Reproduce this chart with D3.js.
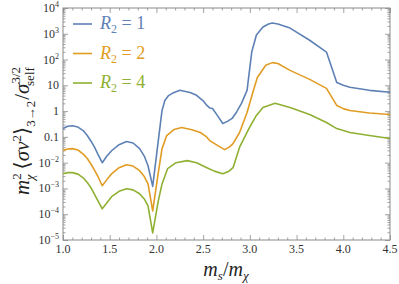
<!DOCTYPE html>
<html>
<head>
<meta charset="utf-8">
<script src="https://cdn.jsdelivr.net/npm/d3@7"></script>
<style>
  body { margin: 0; background: #fff; }
  svg { display: block; }
  text { font-family: "Liberation Serif", "DejaVu Serif", serif; }
</style>
</head>
<body>
<div id="chart"></div>
<script>
// data (x = m_s/m_chi)
const blueX = [1.00,1.05,1.10,1.16,1.22,1.26,1.30,1.34,1.38,1.42,1.47,1.52,1.60,1.68,1.75,1.82,1.87,1.91,1.96,2.02,2.06,2.09,2.13,2.17,2.25,2.36,2.43,2.50,2.54,2.57,2.60,2.65,2.71,2.76,2.81,2.86,2.91,2.97,3.02,3.07,3.14,3.20,3.24,3.30,3.43,3.64,3.82,3.93,4.00,4.07,4.28,4.50];
const blueY = [0.21,0.26,0.27,0.24,0.17,0.113,0.068,0.038,0.019,0.010,0.018,0.029,0.050,0.066,0.058,0.035,0.018,0.0076,0.0012,0.072,1.06,2.6,4.0,4.9,6.4,5.3,4.1,2.5,1.66,1.33,1.27,0.7,0.33,0.40,0.52,0.95,2.0,6.4,195,890,1820,2400,2600,2400,1660,560,195,13,10,8.4,6.4,5.4];

const orangeX = [1.00,1.05,1.10,1.16,1.22,1.26,1.30,1.34,1.38,1.42,1.47,1.52,1.60,1.68,1.75,1.82,1.87,1.91,1.96,2.02,2.06,2.11,2.19,2.27,2.38,2.47,2.53,2.57,2.64,2.73,2.78,2.82,2.89,2.97,3.03,3.08,3.17,3.24,3.30,3.43,3.64,3.82,3.93,4.00,4.07,4.28,4.50];
const orangeY = [0.030,0.034,0.035,0.031,0.021,0.0145,0.0087,0.0049,0.0026,0.00127,0.0022,0.0037,0.0064,0.0083,0.0074,0.0049,0.0029,0.0015,0.000135,0.0041,0.035,0.113,0.194,0.23,0.19,0.148,0.105,0.072,0.050,0.032,0.040,0.055,0.148,0.89,5.0,20,60,76,70,38,17,7.6,1.66,1.25,1.06,0.85,0.74];

const greenX = [1.00,1.05,1.10,1.16,1.22,1.26,1.30,1.34,1.38,1.42,1.47,1.52,1.60,1.68,1.75,1.82,1.87,1.91,1.96,2.02,2.06,2.12,2.21,2.33,2.43,2.54,2.62,2.71,2.77,2.82,2.89,2.99,3.07,3.14,3.27,3.43,3.64,3.82,3.93,4.07,4.28,4.50];
const greenY = [0.0037,0.0041,0.0041,0.0036,0.0025,0.0017,0.00105,0.00056,0.0003,0.000162,0.00028,0.00048,0.00077,0.00098,0.00088,0.00062,0.00039,0.00021,0.0000188,0.00033,0.0015,0.0059,0.010,0.012,0.010,0.0064,0.0047,0.0037,0.0045,0.0064,0.04,0.21,0.68,1.38,2.0,1.38,0.74,0.36,0.21,0.148,0.113,0.087];

const seriesNames = ["R2 = 1", "R2 = 2", "R2 = 4"];
const seriesLabelValue = ["1", "2", "4"];
const seriesColors = ["#5e81b5", "#e19c24", "#8fb032"];

const xTicks = [1.0, 1.5, 2.0, 2.5, 3.0, 3.5, 4.0, 4.5];
const yTicks = [1e4, 1e3, 1e2, 10, 1, 0.1, 1e-2, 1e-3, 1e-4, 1e-5];
const yTickLabels = ["10^4", "10^3", "10^2", "10", "1", "0.1", "10^−2", "10^−3", "10^−4", "10^−5"];

// layout
const W = 399, H = 284;
const margin = { left: 63, right: 390, top: 8, bottom: 240 };

const svg = d3.select("#chart").append("svg")
    .attr("width", W)
    .attr("height", H);

const x = d3.scaleLinear().domain([1, 4.5]).range([margin.left, margin.right]);
const y = d3.scaleLog().domain([1e-5, 1e4]).range([margin.bottom, margin.top]);

// minor ticks
const xMinor = d3.range(10, 46).map(d => d / 10).filter(d => !xTicks.some(t => Math.abs(t - d) < 1e-9));
const yMinor = [];
for (let e = -5; e < 4; e++) {
    for (let k = 2; k <= 9; k++) yMinor.push(k * Math.pow(10, e));
}

const tickColor = "#8a8a8a";

function styleAxis(g) {
    g.select(".domain").remove();
    g.selectAll("line").attr("stroke", tickColor).attr("stroke-width", 0.8);
    g.selectAll("text").remove();
}

// bottom / top
svg.append("g").attr("transform", `translate(0,${margin.bottom})`)
    .call(d3.axisBottom(x).tickValues(xTicks).tickSizeInner(-5).tickSizeOuter(0)).call(styleAxis);
svg.append("g").attr("transform", `translate(0,${margin.bottom})`)
    .call(d3.axisBottom(x).tickValues(xMinor).tickSizeInner(-2.5).tickSizeOuter(0)).call(styleAxis);
svg.append("g").attr("transform", `translate(0,${margin.top})`)
    .call(d3.axisTop(x).tickValues(xTicks).tickSizeInner(-5).tickSizeOuter(0)).call(styleAxis);
svg.append("g").attr("transform", `translate(0,${margin.top})`)
    .call(d3.axisTop(x).tickValues(xMinor).tickSizeInner(-2.5).tickSizeOuter(0)).call(styleAxis);

// left / right
svg.append("g").attr("transform", `translate(${margin.left},0)`)
    .call(d3.axisLeft(y).tickValues(yTicks).tickSizeInner(-5).tickSizeOuter(0)).call(styleAxis);
svg.append("g").attr("transform", `translate(${margin.left},0)`)
    .call(d3.axisLeft(y).tickValues(yMinor).tickSizeInner(-2.5).tickSizeOuter(0)).call(styleAxis);
svg.append("g").attr("transform", `translate(${margin.right},0)`)
    .call(d3.axisRight(y).tickValues(yTicks).tickSizeInner(-5).tickSizeOuter(0)).call(styleAxis);
svg.append("g").attr("transform", `translate(${margin.right},0)`)
    .call(d3.axisRight(y).tickValues(yMinor).tickSizeInner(-2.5).tickSizeOuter(0)).call(styleAxis);

// frame
svg.append("rect")
    .attr("x", margin.left).attr("y", margin.top)
    .attr("width", margin.right - margin.left).attr("height", margin.bottom - margin.top)
    .attr("fill", "none").attr("stroke", tickColor).attr("stroke-width", 1);

// tick labels
svg.append("g").selectAll("text")
    .data(xTicks)
    .enter().append("text")
    .attr("x", d => x(d))
    .attr("y", margin.bottom + 13)
    .attr("text-anchor", "middle")
    .style("font-size", "12px")
    .attr("fill", "#333")
    .text(d => d.toFixed(1));

const yLab = svg.append("g").selectAll("text")
    .data(yTicks)
    .enter().append("text")
    .attr("x", margin.left - 4)
    .attr("y", d => y(d) + 4)
    .attr("text-anchor", "end")
    .style("font-size", "12px")
    .attr("fill", "#333");

yLab.each(function(d, i) {
    const parts = yTickLabels[i].split("^");
    const t = d3.select(this);
    t.append("tspan").text(parts[0]);
    if (parts.length > 1) {
        t.append("tspan").attr("dy", -5).style("font-size", "8px").text(parts[1]);
    }
});

// lines
const line = d3.line()
    .x(d => x(d[0]))
    .y(d => y(d[1]))
    .curve(d3.curveLinear);

const series = [
    d3.zip(blueX, blueY),
    d3.zip(orangeX, orangeY),
    d3.zip(greenX, greenY)
];

svg.append("g").selectAll("path")
    .data(series)
    .enter().append("path")
    .attr("d", line)
    .attr("fill", "none")
    .attr("stroke", (d, i) => seriesColors[i])
    .attr("stroke-width", 1.6)
    .attr("stroke-linejoin", "round");

// legend
const legend = svg.append("g").selectAll("g")
    .data(seriesNames)
    .enter().append("g")
    .attr("transform", (d, i) => `translate(73,${24 + i * 29.5})`);

legend.append("line")
    .attr("x1", 0).attr("x2", 19)
    .attr("stroke", (d, i) => seriesColors[i])
    .attr("stroke-width", 1.6);

const legText = legend.append("text")
    .attr("x", 27)
    .attr("y", 5)
    .style("font-size", "18px")
    .attr("fill", (d, i) => seriesColors[i]);
legText.append("tspan").style("font-style", "italic").text("R");
legText.append("tspan").attr("dy", 4).style("font-size", "12px").text("2");
legText.append("tspan").attr("dy", -4).text((d, i) => " = " + seriesLabelValue[i]);

// x axis title
const xt = svg.append("text")
    .attr("x", 226)
    .attr("y", 276)
    .attr("text-anchor", "middle")
    .style("font-size", "20px")
    .attr("fill", "#222");
xt.append("tspan").style("font-style", "italic").text("m");
xt.append("tspan").attr("dy", 4).style("font-size", "13px").style("font-style", "italic").text("s");
xt.append("tspan").attr("dy", -4).text("/");
xt.append("tspan").style("font-style", "italic").text("m");
xt.append("tspan").attr("dy", 4).style("font-size", "13px").style("font-style", "italic").text("χ");

// y axis title
const yt = svg.append("text")
    .attr("transform", "rotate(-90)")
    .attr("x", -131)
    .attr("y", 29)
    .attr("text-anchor", "middle")
    .style("font-size", "21px")
    .attr("fill", "#222");
yt.append("tspan").style("font-style", "italic").text("m");
yt.append("tspan").attr("dy", -8).style("font-size", "13px").text("2");
yt.append("tspan").attr("dx", -7).attr("dy", 13).style("font-size", "13px").style("font-style", "italic").text("χ");
yt.append("tspan").attr("dy", -5).text(" ⟨");
yt.append("tspan").style("font-style", "italic").text("σv");
yt.append("tspan").attr("dy", -8).style("font-size", "13px").text("2");
yt.append("tspan").attr("dy", 8).text("⟩");
yt.append("tspan").attr("dy", 6).style("font-size", "13px").text("3→2");
yt.append("tspan").attr("dx", 1).attr("dy", -6).text("/");
yt.append("tspan").style("font-style", "italic").text("σ");
yt.append("tspan").attr("dy", -9).style("font-size", "13px").text("3/2");
yt.append("tspan").attr("dx", -19).attr("dy", 14).style("font-size", "13px").text("self");
</script>
</body>
</html>
